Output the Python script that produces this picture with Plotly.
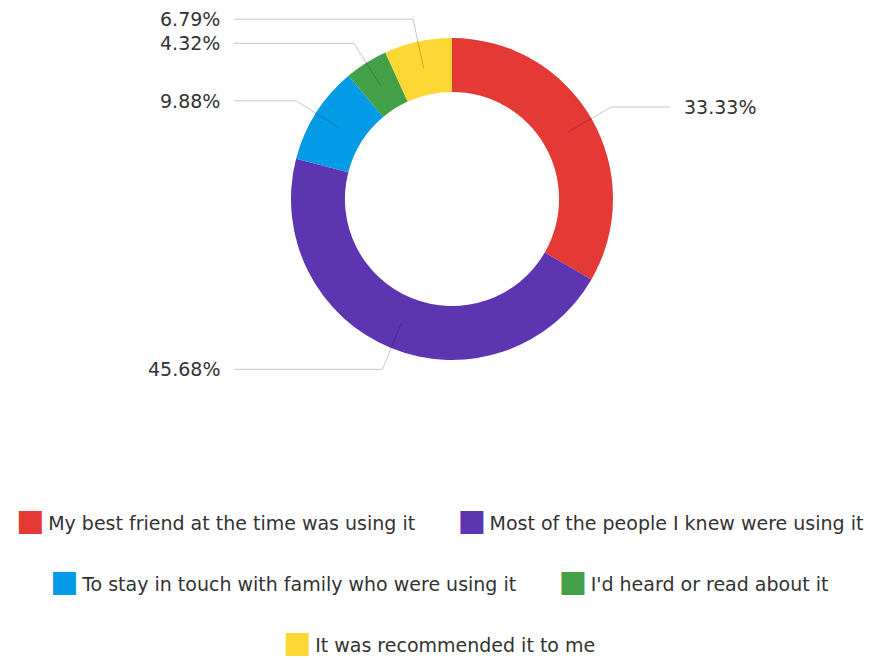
import math
import plotly.graph_objects as go

# ---- data ----
categories = [
    "My best friend at the time was using it",
    "Most of the people I knew were using it",
    "To stay in touch with family who were using it",
    "I'd heard or read about it",
    "It was recommended it to me",
]
counts = [54, 74, 16, 7, 11]
colors = ["#E53935", "#5E35B1", "#039BE5", "#43A047", "#FDD835"]
legend_rows = [[0, 1], [2, 3], [4]]

# ---- layout constants (pixels) ----
W, H = 871, 660
CX, CY, R = 452, 199, 161
HOLE = 0.665
R_LINE_START = 134
R_ELBOW = 184
LINE_END_DX = 218
LABEL_DX = 230
FONT = "DejaVu Sans"
TEXT_COLOR = "#333333"


def px(x):
    return x / W


def py(y):
    return 1 - y / H


fig = go.Figure()
fig.add_trace(go.Pie(
    labels=categories,
    values=counts,
    marker=dict(colors=colors, line=dict(width=0)),
    hole=HOLE,
    sort=False,
    direction="clockwise",
    rotation=0,
    textinfo="none",
    hoverinfo="label+percent",
    showlegend=False,
    domain=dict(x=[px(CX - R), px(CX + R)], y=[py(CY + R), py(CY - R)]),
))

total = sum(counts)
shapes = []
annotations = []
cum = 0
for i, c in enumerate(counts):
    frac = c / total
    mid = (cum + frac / 2) * 2 * math.pi
    cum += frac
    s, co = math.sin(mid), math.cos(mid)
    x1, y1 = CX + R_LINE_START * s, CY - R_LINE_START * co
    x2, y2 = CX + R_ELBOW * s, CY - R_ELBOW * co
    side = 1 if s > 0 else -1
    x3 = CX + side * LINE_END_DX
    shapes.append(dict(
        type="path", xref="paper", yref="paper",
        path=f"M {px(x1)} {py(y1)} L {px(x2)} {py(y2)} L {px(x3)} {py(y2)}",
        line=dict(color="rgba(0,0,0,0.22)", width=1),
    ))
    annotations.append(dict(
        xref="paper", yref="paper",
        x=px(CX + side * LABEL_DX), y=py(y2),
        xanchor="left" if side > 0 else "right", yanchor="middle",
        text=f"{frac * 100:.2f}%", showarrow=False,
        font=dict(family=FONT, size=19, color=TEXT_COLOR),
    ))

# ---- legend rows ----
row_y = [519, 580, 641]
gap = "\u00a0" * 7
for ri, row in enumerate(legend_rows):
    parts = []
    for idx in row:
        parts.append(
            f'<span style="color:{colors[idx]};font-size:30px">\u25A0</span>\u2009{categories[idx]}'
        )
    annotations.append(dict(
        xref="paper", yref="paper", x=px(439), y=py(row_y[ri]),
        xanchor="center", yanchor="middle",
        text=gap.join(parts), showarrow=False,
        font=dict(family=FONT, size=19, color=TEXT_COLOR),
    ))

fig.update_layout(
    width=W, height=H,
    margin=dict(l=0, r=0, t=0, b=0),
    paper_bgcolor="white", plot_bgcolor="white",
    shapes=shapes, annotations=annotations,
    showlegend=False,
)

fig.write_html(
    "out.html",
    config={"displayModeBar": False},
    post_script="document.body.style.margin='0';",
)
